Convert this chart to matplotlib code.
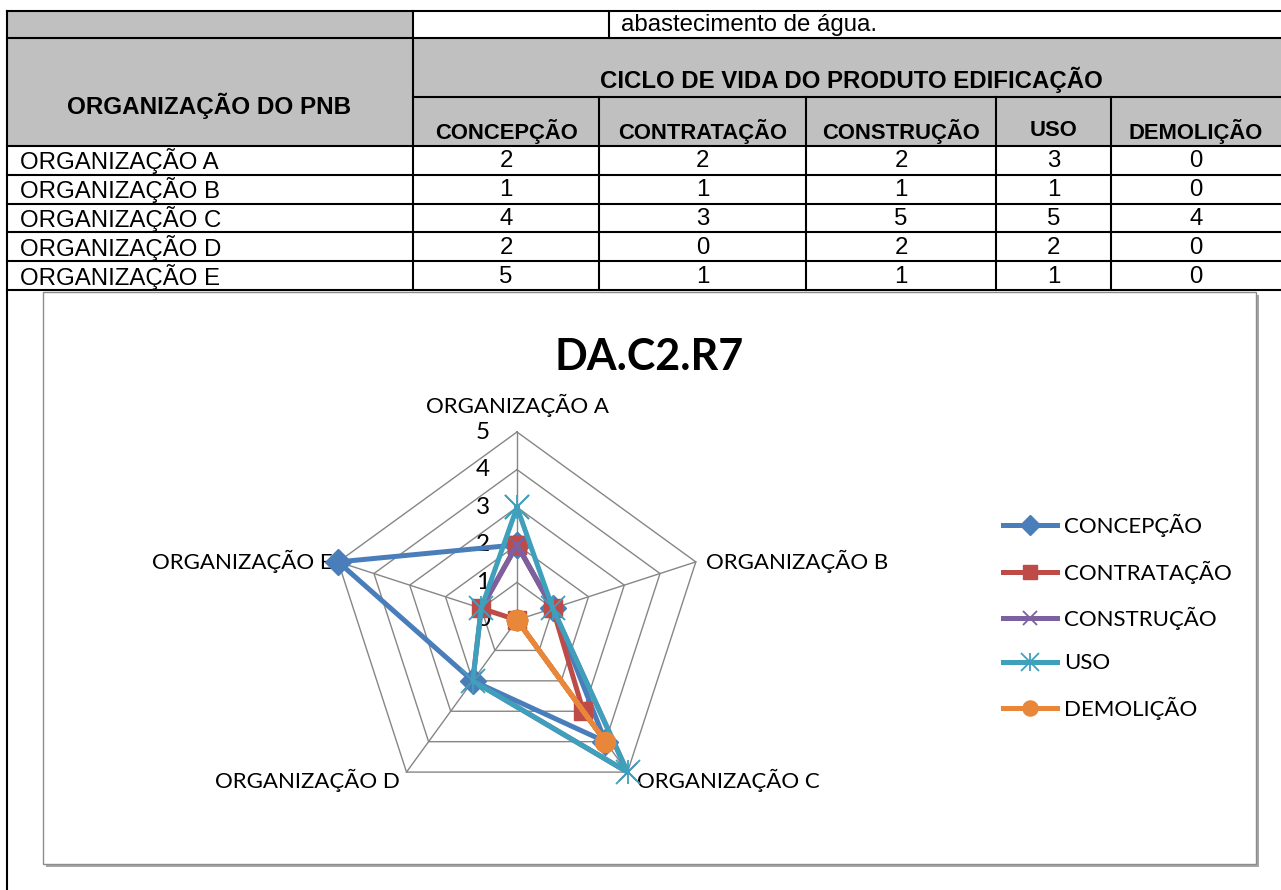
import numpy as np
import matplotlib.pyplot as plt
import matplotlib.transforms as mtransforms
from matplotlib.patches import Rectangle
from matplotlib.lines import Line2D
from matplotlib.legend_handler import HandlerTuple

W, H = 1281, 890

# dados da tabela / grafico
organizacoes = ['ORGANIZAÇÃO A', 'ORGANIZAÇÃO B', 'ORGANIZAÇÃO C', 'ORGANIZAÇÃO D', 'ORGANIZAÇÃO E']
fases = ['CONCEPÇÃO', 'CONTRATAÇÃO', 'CONSTRUÇÃO', 'USO', 'DEMOLIÇÃO']
concepcao = [2, 1, 4, 2, 5]
contratacao = [2, 1, 3, 0, 1]
construcao = [2, 1, 5, 2, 1]
uso = [3, 1, 5, 2, 1]
demolicao = [0, 0, 4, 0, 0]
series = [concepcao, contratacao, construcao, uso, demolicao]
ticks = [0, 1, 2, 3, 4, 5]

cores = ['#4A7EBB', '#BE4B48', '#7D60A0', '#3FA0BC', '#E8873A']
CHART_FONT = ['Lato', 'DejaVu Sans']
TABLE_FONT = ['Liberation Sans', 'DejaVu Sans']

fig = plt.figure(figsize=(W / 100, H / 100), dpi=100)


def fx(x):
    return x / W


def fy(y):
    return 1 - y / H


def hline(x0, x1, y, lw=1.5, color='black'):
    fig.add_artist(Line2D([fx(x0), fx(x1)], [fy(y), fy(y)], color=color, lw=lw,
                          transform=fig.transFigure, zorder=-1))


def vline(x, y0, y1, lw=1.5, color='black'):
    fig.add_artist(Line2D([fx(x), fx(x)], [fy(y0), fy(y1)], color=color, lw=lw,
                          transform=fig.transFigure, zorder=-1))


def rect(x0, y0, x1, y1, **kw):
    fig.add_artist(Rectangle((fx(x0), fy(y1)), fx(x1) - fx(x0), fy(y0) - fy(y1),
                             transform=fig.transFigure, zorder=-2, **kw))


# ---------------- tabela ----------------
gray = '#C0C0C0'
rect(7, 11, 413, 38, facecolor=gray, edgecolor='none')
rect(7, 38, 1281, 146, facecolor=gray, edgecolor='none')

col_edges = [413, 599, 806, 996, 1111, 1281]
row_top = 146
row_h = 28.8

hline(7, 1281, 11)
hline(7, 1281, 38)
hline(413, 1281, 97)
hline(7, 1281, 146)
for i in range(len(organizacoes)):
    hline(7, 1281, row_top + row_h * (i + 1))
vline(7, 11, 890)
vline(413, 11, 290)
vline(609, 11, 38)
for x in col_edges[1:-1]:
    vline(x, 97, 290)

fig.text(fx(621), fy(25), 'abastecimento de água.', ha='left', va='center',
         fontsize=17.3, family=TABLE_FONT)
fig.text(fx(209), fy(106), 'ORGANIZAÇÃO DO PNB', ha='center', va='center',
         fontsize=17.5, fontweight='bold', family=TABLE_FONT)
fig.text(fx(851), fy(80), 'CICLO DE VIDA DO PRODUTO EDIFICAÇÃO', ha='center', va='center',
         fontsize=17.3, fontweight='bold', family=TABLE_FONT)
for j, f in enumerate(fases):
    cx = (col_edges[j] + col_edges[j + 1]) / 2
    fig.text(fx(cx), fy(131), f, ha='center', va='center', fontsize=15.8,
             fontweight='bold', family=TABLE_FONT)

for i, org in enumerate(organizacoes):
    cy = row_top + row_h * (i + 0.5) + 1
    fig.text(fx(20), fy(cy), org, ha='left', va='center', fontsize=17.3, family=TABLE_FONT)
    for j, s in enumerate(series):
        cx = (col_edges[j] + col_edges[j + 1]) / 2
        fig.text(fx(cx), fy(cy), str(s[i]), ha='center', va='center', fontsize=17.3,
                 family=TABLE_FONT)

# ---------------- caixa do grafico ----------------
rect(46, 295, 1259, 867, facecolor='#A6A6A6', edgecolor='none')
rect(43, 292, 1256, 864, facecolor='white', edgecolor='#8C8C8C', lw=1)

fig.text(fx(649), fy(357), 'DA.C2.R7', ha='center', va='center', fontsize=31,
         fontweight='bold', family=CHART_FONT)

# ---------------- radar ----------------
cx, cy, R = 517, 620, 188
ax = fig.add_axes([fx(cx - R), fy(cy + R), 2 * R / W, 2 * R / H], projection='polar')
ax.set_zorder(5)
ax.set_theta_offset(np.pi / 2)
ax.set_theta_direction(-1)
ax.set_ylim(0, 5)
ax.axis('off')

theta = np.arange(len(organizacoes)) * 2 * np.pi / len(organizacoes)
theta_c = np.append(theta, theta[0])

grid_col = '#868686'
for r in ticks[1:]:
    ax.plot(theta_c, [r] * len(theta_c), color=grid_col, lw=1.0, clip_on=False, zorder=1)
for t in theta:
    ax.plot([t, t], [0, 5], color=grid_col, lw=1.0, clip_on=False, zorder=1)

for v in ticks:
    tr = mtransforms.offset_copy(ax.transData, fig=fig, x=-34, y=0, units='dots')
    ax.text(0, v, str(v), transform=tr, ha='center', va='center', fontsize=17.5,
            family=CHART_FONT)

lab_off = [(0, 27, 'center'), (10, 0, 'left'), (9, -8, 'left'), (-7, -8, 'right'), (-6, 0, 'right')]
for t, org, (dx, dy, ha) in zip(theta, organizacoes, lab_off):
    tr = mtransforms.offset_copy(ax.transData, fig=fig, x=dx, y=dy, units='dots')
    ax.text(t, 5, org, transform=tr, ha=ha, va='center', fontsize=16, family=CHART_FONT)

marcadores = ['D', 's', 'x', 'x', 'o']
tamanhos = [13, 13, 13, 17, 14.5]
handles = []
for k, (s, c, m, ms) in enumerate(zip(series, cores, marcadores, tamanhos)):
    vals = np.append(s, s[0])
    mew = 1.3 if m == 'x' else 1.0
    ln, = ax.plot(theta_c, vals, color=c, lw=3.6, marker=m, ms=ms, mew=mew,
                  clip_on=False, zorder=3 + k)
    if fases[k] == 'USO':
        ln2, = ax.plot(theta, s, color=c, ls='none', marker='|', ms=ms, mew=mew,
                       clip_on=False, zorder=3 + k)
        handles.append((ln, ln2))
    else:
        handles.append(ln)

fig.legend(handles, fases, handler_map={tuple: HandlerTuple(ndivide=1, pad=0)},
           loc='center left', bbox_to_anchor=(fx(983), fy(617)), frameon=False,
           prop={'family': CHART_FONT, 'size': 16}, handlelength=2.45,
           handletextpad=0.3, labelspacing=1.05, markerscale=0.75)

fig.savefig('out.png', dpi=100)
